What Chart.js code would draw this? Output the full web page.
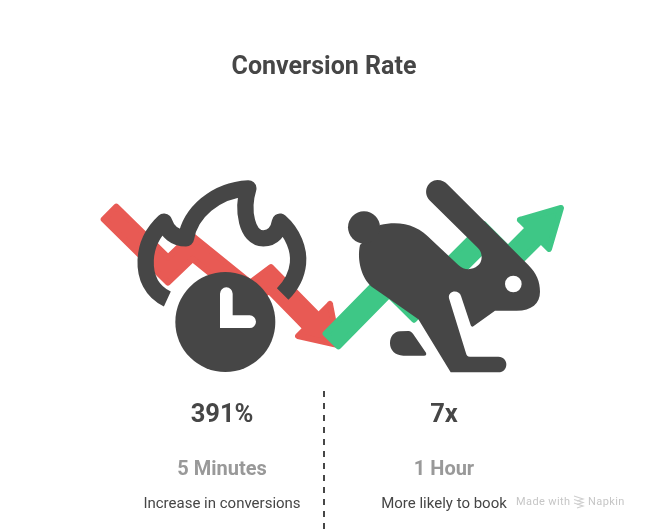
<!DOCTYPE html>
<html>
<head>
<meta charset="utf-8">
<title>Conversion Rate</title>
<script src="https://cdn.jsdelivr.net/npm/chart.js@4/dist/chart.umd.min.js"></script>
<style>
  html, body { margin: 0; padding: 0; background: #fff; }
  canvas { display: block; }
</style>
</head>
<body>
<canvas id="chart" width="648" height="529"></canvas>
<script>
// what the graphic says
const chartTitle = 'Conversion Rate';
const categories = ['5 Minutes', '1 Hour'];
const values = ['391%', '7x'];
const descriptions = ['Increase in conversions', 'More likely to book'];

// arrows in page pixels
const redShaft = [[110, 213], [168, 270], [192, 247], [250, 294], [270, 279], [323, 333]];
const redHead = [[330, 304], [338, 345], [298, 336], [330, 304]];
const greenShaft = [[332, 340], [389, 282], [414, 307], [484, 237], [508, 261], [533, 236]];
const greenHead = [[520, 220], [561, 208], [549, 249], [520, 220]];
const divider = [[324, 391], [324, 529]];

const DARK = '#464646', RED = '#e85a54', GREEN = '#3ec786';

const xy = pts => pts.map(p => ({ x: p[0], y: p[1] }));

// turn a centre line into a closed outline, half a shaft wide on each side
function outline(pts, half) {
  const left = [], right = [];
  const n = (u, v) => { const l = Math.hypot(v[0] - u[0], v[1] - u[1]); return [(u[1] - v[1]) / l, (v[0] - u[0]) / l]; };
  pts.forEach((p, i) => {
    const n1 = i > 0 ? n(pts[i - 1], p) : n(p, pts[i + 1]);
    const n2 = i < pts.length - 1 ? n(p, pts[i + 1]) : n1;
    const mx = n1[0] + n2[0], my = n1[1] + n2[1];
    const k = half * 2 / (mx * mx + my * my);
    left.push([p[0] + mx * k, p[1] + my * k]);
    right.unshift([p[0] - mx * k, p[1] - my * k]);
  });
  return left.concat(right, [left[0]]);
}

function shape(pts, color) {
  return { data: xy(pts), borderColor: color, backgroundColor: color, borderWidth: 6, borderJoinStyle: 'round', borderCapStyle: 'round', pointRadius: 0, fill: 'shape' };
}

// icons are pictograms, traced at 3x around an origin
const fire = new Path2D('M232 387C185 365 165 320 167 270C169 220 195 180 222 155C232 185 255 205 288 205C300 130 375 60 475 55C455 120 470 205 520 205C550 205 565 185 570 155C610 190 628 240 624 280C620 320 600 350 578 372');
const hands = new Path2D('M409 371L409 455L479 455');
const rabbit = new Path2D('M180 165C240 150 295 165 335 210L415 285C440 310 485 295 485 262C485 245 478 238 470 230L330 92C305 65 325 30 352 30C365 30 375 35 382 43L625 285C650 310 660 335 660 365C660 400 635 422 590 422L525 422L458 470C455 470 453 468 452 465L423 378C418 358 383 360 387 385L438 550C440 557 442 560 450 560L535 560C567 560 567 607 535 607L392 607L295 448L205 385L155 350C125 325 110 270 120 225Z');
const paw = new Path2D('M240 484L265 483C272 483 276 488 280 493L318 548C320 553 318 557 312 557L250 557C225 557 210 540 210 520C210 500 222 485 240 484Z');

const iconsPlugin = {
  id: 'icons',
  afterDatasetsDraw(chart) {
    const c = chart.ctx, sx = chart.scales.x, sy = chart.scales.y;
    c.save();
    c.translate(sx.getPixelForValue(90), sy.getPixelForValue(170));
    c.scale(1 / 3, 1 / 3);
    c.strokeStyle = DARK;
    c.lineWidth = 49;
    c.lineJoin = 'round';
    c.lineCap = 'butt';
    c.stroke(fire);
    c.fillStyle = DARK;
    c.beginPath();
    c.arc(406, 456, 150, 0, Math.PI * 2);
    c.fill();
    c.strokeStyle = '#fff';
    c.lineWidth = 38;
    c.lineCap = 'round';
    c.lineJoin = 'miter';
    c.stroke(hands);
    c.restore();

    c.save();
    c.translate(sx.getPixelForValue(320), sy.getPixelForValue(170));
    c.scale(1 / 3, 1 / 3);
    c.fillStyle = DARK;
    c.fill(rabbit);
    c.fill(paw);
    c.beginPath();
    c.arc(132, 172, 48, 0, Math.PI * 2);
    c.fill();
    c.fillStyle = '#fff';
    c.beginPath();
    c.arc(580, 342, 25, 0, Math.PI * 2);
    c.fill();
    c.restore();
  }
};

const textPlugin = {
  id: 'texts',
  afterDraw(chart) {
    const c = chart.ctx, sx = chart.scales.x, sy = chart.scales.y;
    const colX = [222, 444];
    c.save();
    c.textAlign = 'center';
    c.textBaseline = 'middle';
    categories.forEach((cat, i) => {
      const x = sx.getPixelForValue(colX[i]);
      c.fillStyle = DARK;
      c.font = 'bold 25.5px Roboto';
      c.fillText(values[i], x, sy.getPixelForValue(416));
      c.fillStyle = '#999999';
      c.font = 'bold 20px Roboto';
      c.fillText(cat, x, sy.getPixelForValue(470));
      c.fillStyle = DARK;
      c.font = '15px Roboto';
      c.fillText(descriptions[i], x, sy.getPixelForValue(504));
    });
    // watermark
    c.textAlign = 'left';
    c.fillStyle = '#c6c6c6';
    c.font = '11px Roboto';
    c.letterSpacing = '0.4px';
    c.fillText('Made with', sx.getPixelForValue(516), sy.getPixelForValue(502));
    c.fillText('Napkin', sx.getPixelForValue(588), sy.getPixelForValue(502));
    c.strokeStyle = '#cfcfcf';
    c.lineWidth = 1.2;
    [0, 3.5, 7].forEach(d => {
      c.beginPath();
      c.moveTo(sx.getPixelForValue(574), sy.getPixelForValue(496 + d));
      c.lineTo(sx.getPixelForValue(583), sy.getPixelForValue(499 + d));
      c.lineTo(sx.getPixelForValue(577), sy.getPixelForValue(501 + d));
      c.stroke();
    });
    c.restore();
  }
};

new Chart(document.getElementById('chart'), {
  type: 'scatter',
  data: {
    datasets: [
      { data: xy(divider), borderColor: DARK, borderWidth: 2, borderDash: [6, 6], pointRadius: 0 },
      shape(greenHead, GREEN),
      shape(outline(greenShaft, 9), GREEN),
      shape(redHead, RED),
      shape(outline(redShaft, 9), RED)
    ].map(d => Object.assign({ showLine: true, tension: 0, clip: false }, d))
  },
  options: {
    responsive: false,
    animation: false,
    layout: { padding: 0 },
    plugins: {
      legend: { display: false },
      tooltip: { enabled: false },
      title: {
        display: true,
        text: chartTitle,
        color: DARK,
        font: { family: 'Roboto', size: 25, weight: 'bold', lineHeight: 1.2 },
        padding: { top: 53, bottom: 0 }
      }
    },
    scales: {
      x: { type: 'linear', display: false, min: 0, max: 648 },
      y: { type: 'linear', display: false, reverse: true, min: 83, max: 529 }
    }
  },
  plugins: [iconsPlugin, textPlugin]
});
</script>
</body>
</html>
